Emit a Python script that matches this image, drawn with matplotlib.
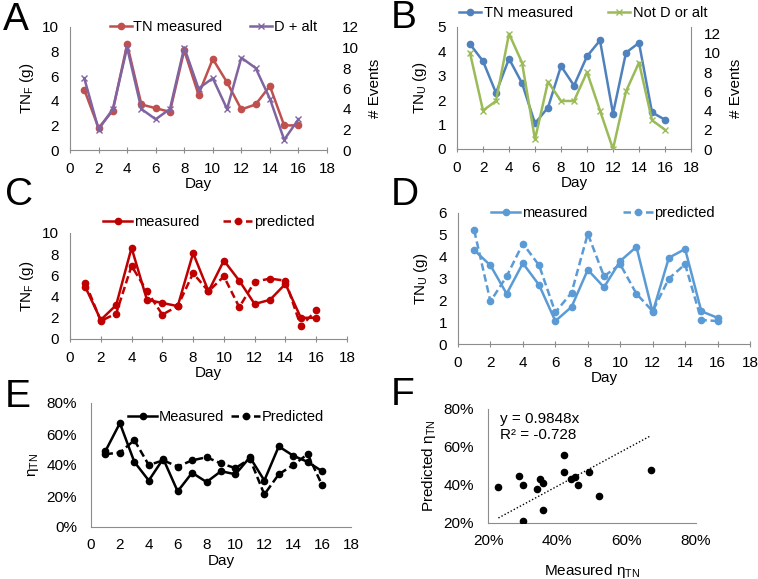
import matplotlib
matplotlib.use('Agg')
import matplotlib.pyplot as plt
import matplotlib.ticker as mtick

plt.rcParams['font.family'] = ['Liberation Sans', 'DejaVu Sans']
plt.rcParams['font.size'] = 9

W, H = 758, 579

days = list(range(1, 17))

# TN in feces (g)
tnf_measured = [4.9, 1.8, 3.2, 8.6, 3.7, 3.4, 3.1, 8.1, 4.5, 7.4, 5.5, 3.3, 3.7, 5.2, 2.0, 2.0]
tnf_predicted = [5.3, 1.7, 2.4, 6.9, 4.5, 2.3, 3.1, 6.2, 4.5, 5.9, 3.0, 5.4, 5.7, 5.5, 1.2, 2.7]
events_d_alt = [7, 2, 4, 10, 4, 3, 4, 10, 6, 7, 4, 9, 8, 5, 1, 3]

# TN in urine (g)
tnu_measured = [4.3, 3.6, 2.3, 3.7, 2.7, 1.05, 1.7, 3.4, 2.6, 3.8, 4.45, 1.45, 3.95, 4.35, 1.5, 1.2]
tnu_predicted = [5.2, 1.95, 3.1, 4.6, 3.6, 1.45, 2.35, 5.05, 3.1, 3.65, 2.3, 1.5, 3.0, 3.65, 1.1, 1.05]
events_not_d_alt = [10, 4, 5, 12, 9, 1, 7, 5, 5, 8, 4, 0, 6, 9, 3, 2]

# efficiency eta_TN (%)
eta_measured = [49, 67, 42, 30, 44, 23, 35, 29, 36, 34, 45, 30, 52, 46, 42, 36]
eta_predicted = [47, 48, 56, 40, 43, 39, 43, 45, 41, 38, 44, 21, 34, 40, 47, 27]
slope = 0.9848

GRAY = '#8c8c8c'
LFS = 10.5          # legend font size
DASH = (0, (3, 1.5))


def rect(l, t, r, b):
    return [l / W, 1 - b / H, (r - l) / W, (b - t) / H]


def style(ax, xticks=True, ypad=8):
    for s in ['top', 'right']:
        ax.spines[s].set_visible(False)
    for s in ['left', 'bottom']:
        ax.spines[s].set_color(GRAY)
    ax.tick_params(axis='y', length=0, pad=ypad)
    if xticks:
        ax.tick_params(axis='x', length=5, direction='inout', color=GRAY, pad=6)
    else:
        ax.tick_params(axis='x', length=0, pad=8)
    ax.tick_params(labelsize=11)


def day_axis(ax):
    ax.set_xlim(0, 18)
    ax.set_xticks(range(0, 19, 2))
    ax.set_xlabel('Day', fontsize=11, labelpad=1)


def legend_at(ax, handles, labels, x, y, hl, tp, cs):
    # legend left edge at pixel x, vertical centre at pixel y
    ax.legend(handles, labels, ncol=2, frameon=False, fontsize=LFS, loc='center left',
              bbox_to_anchor=(x / W, 1 - y / H), bbox_transform=fig.transFigure,
              borderpad=0, borderaxespad=0, numpoints=1,
              handlelength=hl, handletextpad=tp, columnspacing=cs)


def letter(s, x, y):
    fig.text(x / W, 1 - y / H, s, fontsize=28, va='baseline', ha='left')


fig = plt.figure(figsize=(W / 100, H / 100), dpi=100)

# ---- A ----
ax = fig.add_axes(rect(70, 27, 327, 150))
style(ax)
ax.plot(days, tnf_measured, color='#c0504d', marker='o', ms=4.5, lw=1.8, label='TN measured')
ax.set_ylim(0, 10)
ax.set_yticks(range(0, 11, 2))
day_axis(ax)
ax.set_ylabel('TN$_\\mathregular{F}$ (g)', fontsize=11, labelpad=4)
ax2 = ax.twinx()
for s in ['top', 'right', 'left', 'bottom']:
    ax2.spines[s].set_visible(False)
ax2.plot(days, events_d_alt, color='#8064a2', marker='x', ms=4.5, lw=1.8, label='D + alt')
ax2.set_ylim(0, 12)
ax2.set_yticks(range(0, 13, 2))
ax2.tick_params(axis='y', length=0, pad=11, labelsize=11)
ax2.set_ylabel('# Events', fontsize=11, labelpad=6)
h1, l1 = ax.get_legend_handles_labels()
h2, l2 = ax2.get_legend_handles_labels()
legend_at(ax2, h1 + h2, l1 + l2, 110, 27, 1.5, 0.1, 1.9)
letter('A', 3, 30)

# ---- B ----
ax = fig.add_axes(rect(457, 27, 691, 149))
style(ax)
ax.spines['right'].set_visible(True)
ax.spines['right'].set_color(GRAY)
ax.plot(days, tnu_measured, color='#4f81bd', marker='o', ms=4.5, lw=1.8, label='TN measured')
ax.set_ylim(0, 5)
ax.set_yticks(range(0, 6))
day_axis(ax)
ax.set_ylabel('TN$_\\mathregular{U}$ (g)', fontsize=11, labelpad=6)
ax2 = ax.twinx()
for s in ['top', 'right', 'left', 'bottom']:
    ax2.spines[s].set_visible(False)
ax2.plot(days, events_not_d_alt, color='#9bbb59', marker='x', ms=4, lw=1.8, label='Not D or alt')
ax2.set_ylim(0, 12.7)
ax2.set_yticks(range(0, 13, 2))
ax2.tick_params(axis='y', length=0, pad=9, labelsize=11)
ax2.set_ylabel('# Events', fontsize=11, labelpad=6)
h1, l1 = ax.get_legend_handles_labels()
h2, l2 = ax2.get_legend_handles_labels()
legend_at(ax2, h1 + h2, l1 + l2, 459, 13, 1.5, 0.2, 2.4)
letter('B', 391, 28)

# ---- C ----
ax = fig.add_axes(rect(70, 233, 347, 339))
style(ax)
ax.plot(days, tnf_measured, color='#c00000', marker='o', ms=4.5, lw=1.8, label='measured')
ax.plot(days, tnf_predicted, color='#c00000', marker='o', ms=4.5, lw=1.8, ls=DASH, label='predicted')
ax.set_ylim(0, 10)
ax.set_yticks(range(0, 11, 2))
day_axis(ax)
ax.set_ylabel('TN$_\\mathregular{F}$ (g)', fontsize=11, labelpad=4)
h, l = ax.get_legend_handles_labels()
legend_at(ax, h, l, 103, 222, 2.0, 0.1, 1.65)
letter('C', 5, 205)

# ---- D ----
ax = fig.add_axes(rect(458, 213, 750, 344))
style(ax)
ax.plot(days, tnu_measured, color='#5b9bd5', marker='o', ms=4.5, lw=1.8, label='measured')
ax.plot(days, tnu_predicted, color='#5b9bd5', marker='o', ms=4.5, lw=1.8, ls=DASH, label='predicted')
ax.set_ylim(0, 6)
ax.set_yticks(range(0, 7))
day_axis(ax)
ax.set_ylabel('TN$_\\mathregular{U}$ (g)', fontsize=11, labelpad=6)
h, l = ax.get_legend_handles_labels()
legend_at(ax, h, l, 491, 213, 2.0, 0.1, 2.5)
letter('D', 391, 205)

# ---- E ----
ax = fig.add_axes(rect(91, 403, 351, 527))
style(ax, xticks=False, ypad=10)
ax.plot(days, eta_measured, color='black', marker='o', ms=4.5, lw=1.8, label='Measured')
ax.plot(days, eta_predicted, color='black', marker='o', ms=4.5, lw=1.8, ls=DASH, label='Predicted')
ax.set_ylim(0, 80)
ax.set_yticks(range(0, 81, 20))
ax.yaxis.set_major_formatter(mtick.FuncFormatter(lambda v, p: f'{v:.0f}%'))
day_axis(ax)
ax.set_ylabel('η$_\\mathregular{TN}$', fontsize=11, labelpad=4)
h, l = ax.get_legend_handles_labels()
legend_at(ax, h, l, 128, 417, 2.0, 0.1, 0.5)
letter('E', 5, 407)

# ---- F ----
ax = fig.add_axes(rect(488, 409, 696, 523))
style(ax, xticks=False, ypad=10)
ax.scatter(eta_measured, eta_predicted, color='black', s=20, zorder=3)
xfit = [min(eta_measured), max(eta_measured)]
ax.plot(xfit, [slope * v for v in xfit], color='black', lw=1, ls=(0, (1, 1.5)))
ax.set_xlim(20, 80)
ax.set_ylim(20, 80)
ax.set_xticks(range(20, 81, 20))
ax.set_yticks(range(20, 81, 20))
pct = mtick.FuncFormatter(lambda v, p: f'{v:.0f}%')
ax.xaxis.set_major_formatter(pct)
ax.yaxis.set_major_formatter(pct)
ax.set_xlabel('Measured η$_\\mathregular{TN}$', fontsize=11, labelpad=10)
ax.set_ylabel('Predicted η$_\\mathregular{TN}$', fontsize=11, labelpad=4)
ax.text(0.06, 0.97, f'y = {slope}x\nR² = -0.728', transform=ax.transAxes, fontsize=11,
        va='top', ha='left', linespacing=1.1)
letter('F', 391, 405)

fig.savefig('out.png', dpi=100)
